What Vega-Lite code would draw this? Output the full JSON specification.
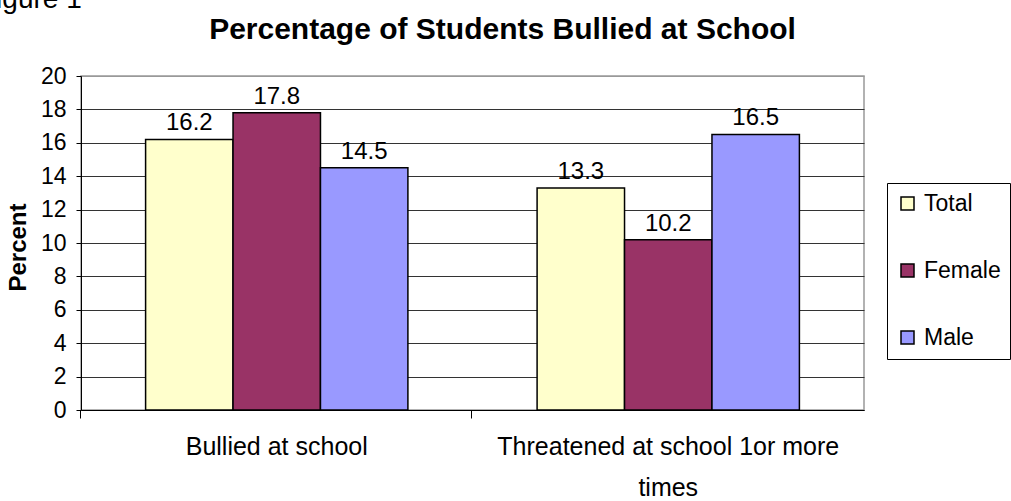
{
  "$schema": "https://vega.github.io/schema/vega-lite/v6.json",
  "width": 783,
  "height": 334,
  "autosize": {"type": "none"},
  "padding": {"left": 81, "top": 76, "right": 147, "bottom": 91},
  "background": "white",
  "title": {
    "text": "Figure 1",
    "anchor": "start",
    "frame": "group",
    "dx": -102,
    "dy": 22,
    "offset": 0,
    "fontSize": 28,
    "fontWeight": "normal",
    "font": "Liberation Sans",
    "color": "black",
    "baseline": "alphabetic"
  },
  "config": {
    "font": "Liberation Sans",
    "view": {"stroke": "#999999", "strokeWidth": 1.5},
    "axis": {"labelColor": "black", "titleColor": "black", "labelFont": "Liberation Sans", "titleFont": "Liberation Sans"}
  },
  "data": {
    "values": [
      {"category": "Bullied at school", "group": "Total", "percent": 16.2},
      {"category": "Bullied at school", "group": "Female", "percent": 17.8},
      {"category": "Bullied at school", "group": "Male", "percent": 14.5},
      {"category": "Threatened at school 1or more times", "group": "Total", "percent": 13.3},
      {"category": "Threatened at school 1or more times", "group": "Female", "percent": 10.2},
      {"category": "Threatened at school 1or more times", "group": "Male", "percent": 16.5}
    ]
  },
  "encoding": {
    "x": {
      "field": "category",
      "type": "nominal",
      "sort": ["Bullied at school", "Threatened at school 1or more times"],
      "scale": {"paddingInner": 0.33, "paddingOuter": 0.165},
      "axis": {
        "orient": "bottom",
        "title": null,
        "bandPosition": -0.249,
        "labelAngle": 0,
        "ticks": true,
        "tickSize": 8,
        "tickColor": "black",
        "domainColor": "black",
        "domainWidth": 1,
        "grid": false,
        "labelFontSize": 25,
        "labelPadding": 16,
        "labelBaseline": "top",
        "labelLineHeight": 41,
        "labelLimit": 0,
        "labelExpr": "datum.value == 'Threatened at school 1or more times' ? ['Threatened at school 1or more', 'times'] : datum.label"
      }
    },
    "xOffset": {
      "field": "group",
      "type": "nominal",
      "sort": ["Total", "Female", "Male"],
      "scale": {"paddingInner": 0, "paddingOuter": 0}
    },
    "y": {
      "field": "percent",
      "type": "quantitative",
      "scale": {"domain": [0, 20], "nice": false},
      "axis": {
        "title": "Percent",
        "titleFontSize": 24,
        "titleFontWeight": "bold",
        "titleX": -63,
        "titleY": 171,
        "titleAngle": -90,
        "titleAlign": "center",
        "titleBaseline": "middle",
        "values": [0, 2, 4, 6, 8, 10, 12, 14, 16, 18, 20],
        "grid": true,
        "gridColor": {"condition": {"test": "datum.value == 20", "value": "#999999"}, "value": "#333333"},
        "gridWidth": 1,
        "domainColor": "black",
        "tickColor": "black",
        "tickSize": 5,
        "labelFontSize": 23,
        "labelPadding": 10
      }
    }
  },
  "layer": [
    {
      "mark": {"type": "bar", "stroke": "black", "strokeWidth": 1.5},
      "encoding": {
        "color": {
          "field": "group",
          "type": "nominal",
          "sort": ["Total", "Female", "Male"],
          "scale": {"domain": ["Total", "Female", "Male"], "range": ["#FFFFCC", "#993366", "#9999FF"]},
          "legend": {
            "orient": "none",
            "legendX": 806,
            "legendY": 107,
            "title": null,
            "symbolType": "square",
            "symbolSize": 169,
            "symbolStrokeColor": "black",
            "symbolStrokeWidth": 1.5,
            "labelFontSize": 23,
            "labelFont": "Liberation Sans",
            "labelColor": "black",
            "labelOffset": 5,
            "rowPadding": 43,
            "padding": 9,
            "strokeColor": "black",
            "fillColor": "white"
          }
        }
      }
    },
    {
      "mark": {"type": "text", "dy": -9, "baseline": "alphabetic", "fontSize": 24, "color": "black", "font": "Liberation Sans"},
      "encoding": {
        "text": {"field": "percent", "type": "quantitative", "format": ".1f"},
        "x": {
          "field": "category",
          "type": "nominal",
          "sort": ["Bullied at school", "Threatened at school 1or more times"],
          "axis": {
            "orient": "top",
            "labels": false,
            "ticks": false,
            "domain": false,
            "grid": false,
            "title": "Percentage of Students Bullied at School",
            "titleX": 421,
            "titleY": -38,
            "titleAlign": "center",
            "titleBaseline": "alphabetic",
            "titleFontSize": 30,
            "titleFontWeight": "bold",
            "titleColor": "black"
          }
        }
      }
    }
  ]
}
